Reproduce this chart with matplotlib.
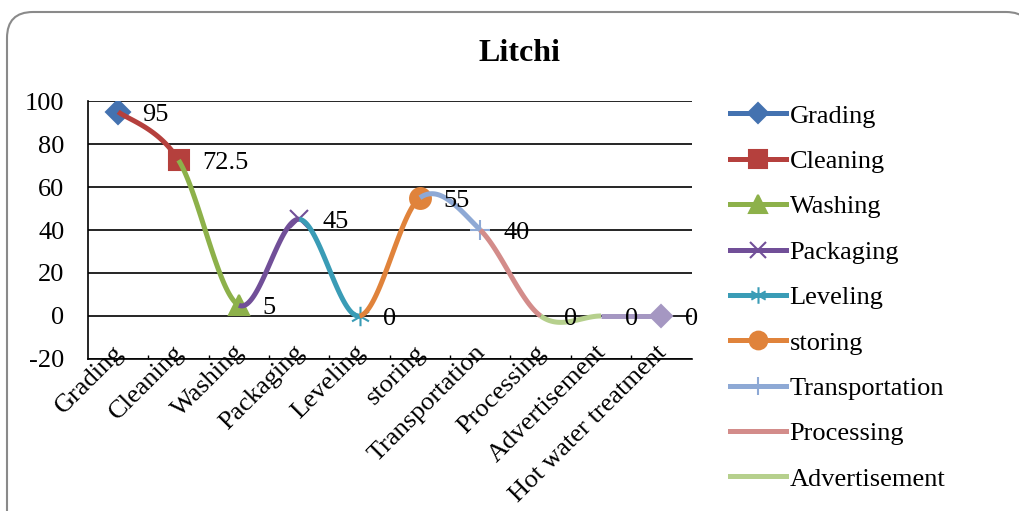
import numpy as np
import matplotlib
matplotlib.use("Agg")
import matplotlib.pyplot as plt
from matplotlib.lines import Line2D
from matplotlib.path import Path
from matplotlib.patches import FancyBboxPatch
from matplotlib.transforms import ScaledTranslation, IdentityTransform

plt.rcParams['font.family'] = ['Liberation Serif', 'DejaVu Serif']
plt.rcParams['axes.unicode_minus'] = False

# Stages and their scores
stages = ["Grading", "Cleaning", "Washing", "Packaging", "Leveling", "storing",
          "Transportation", "Processing", "Advertisement", "Hot water treatment"]
scores = [95, 72.5, 5, 45, 0, 55, 40, 0, 0, 0]
colors = ["#4472B0", "#B5403D", "#8DB14A", "#714F98", "#3A9CB6", "#E0833B",
          "#8EA9D5", "#D38C8A", "#B6D08D", "#A597C2"]

# asterisk marker (vertical bar + two diagonals)
ast = Path([(0, -1), (0, 1), (-0.87, -0.5), (0.87, 0.5), (-0.87, 0.5), (0.87, -0.5)],
           [Path.MOVETO, Path.LINETO] * 3)
markers = ["D", "s", "^", "x", ast, "o", "+", None, None, "D"]
msizes = [12, 15, 15, 13, 14, 15, 15, 0, 0, 11]
FS = 19


def smooth_segment(xs, ys, i, n=60):
    # bezier between point i and i+1, control points like a catmull-rom spline
    last = len(xs) - 1
    p = np.column_stack([xs, ys]).astype(float)
    p0 = p[max(i - 1, 0)]
    p1 = p[i]
    p2 = p[i + 1]
    p3 = p[min(i + 2, last)]
    c1 = p1 + (p2 - p0) / 6
    c2 = p2 - (p3 - p1) / 6
    t = np.linspace(0, 1, n)[:, None]
    pts = (1 - t) ** 3 * p1 + 3 * (1 - t) ** 2 * t * c1 + 3 * (1 - t) * t ** 2 * c2 + t ** 3 * p2
    return pts[:, 0], pts[:, 1]


fig = plt.figure(figsize=(10.2, 5.11), dpi=100)
ax = fig.add_axes([0.0863, 0.2975, 0.5917, 0.5048])

# rounded outer frame
frame = FancyBboxPatch((7, -40), 1025, 539, boxstyle="round,pad=0,rounding_size=26",
                       transform=IdentityTransform(), facecolor="white",
                       edgecolor="#8a8a8a", lw=1.5, zorder=-10)
fig.patches.append(frame)
ax.set_facecolor("none")

x = np.arange(len(stages))
handles = []
for i, name in enumerate(stages):
    c = colors[i]
    if i > 0:
        sx, sy = smooth_segment(x, scores, i - 1)
        ax.plot(sx, sy, color=c, lw=3.6, solid_capstyle="butt", zorder=3 + i)
    m = markers[i]
    filled = m in ("D", "s", "^", "o")
    if m is not None:
        ax.plot(x[i], scores[i], marker=m, ms=msizes[i], color=c,
                mfc=c if filled else "none", mec=c, mew=1.5, ls="none", zorder=3 + i)
    ax.annotate(f"{scores[i]:g}", (x[i], scores[i]), xytext=(17, -2),
                textcoords="offset points", ha="left", va="center", fontsize=FS,
                zorder=20)
    handles.append(Line2D([], [], color=c, lw=3.6, marker=m,
                          ms=msizes[i] * 0.85 if m is not None else 0,
                          mfc=c if filled else "none", mec=c, mew=1.5))

ax.set_xlim(-0.5, len(stages) - 0.5)
ax.set_ylim(-20, 100)
ax.set_yticks(range(-20, 101, 20))
ax.yaxis.grid(True, color="black", lw=1.2)
ax.set_axisbelow(True)
for s in ("top", "right"):
    ax.spines[s].set_visible(False)
for s in ("left", "bottom"):
    ax.spines[s].set_color("black")
    ax.spines[s].set_linewidth(1.2)
ax.tick_params(axis="y", length=0, pad=17, labelsize=FS)

ax.set_xticks(x)
ax.set_xticklabels(stages, rotation=45, ha="right", va="center",
                   rotation_mode="anchor", fontsize=FS)
ax.tick_params(axis="x", length=0, pad=0)
shift = ScaledTranslation(0.02, 0.10, fig.dpi_scale_trans)
for lab in ax.get_xticklabels():
    lab.set_transform(lab.get_transform() + shift)
ax.set_xticks(x[:-1] + 0.5, minor=True)
ax.tick_params(axis="x", which="minor", direction="in", length=3, width=1, color="black")

fig.text(0.509, 0.896, "Litchi", ha="center", va="center", fontsize=23, fontweight="bold")

fig.legend(handles[:9], stages[:9], loc="upper left", bbox_to_anchor=(0.716, 0.796),
           frameon=False, fontsize=FS, handlelength=2.1, handletextpad=0.15,
           labelspacing=0.83, borderpad=0, borderaxespad=0)

fig.savefig("out.png", dpi=100)
